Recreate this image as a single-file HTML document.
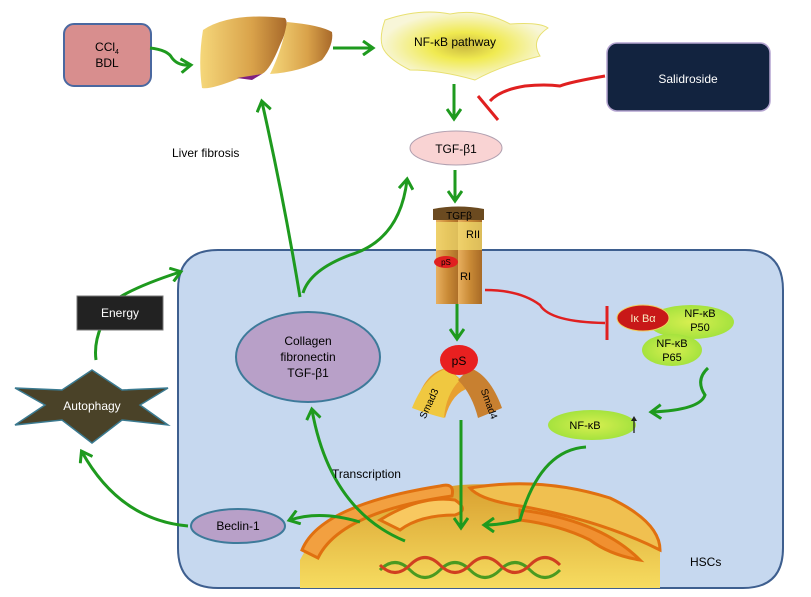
<!DOCTYPE html>
<html><head><meta charset="utf-8"><style>
html,body{margin:0;padding:0;background:#fff}
svg{display:block}
text{font-family:"Liberation Sans",sans-serif}
</style></head><body>
<svg width="811" height="597" viewBox="0 0 811 597" xmlns="http://www.w3.org/2000/svg">
<defs>
<linearGradient id="liv" x1="0" x2="1"><stop offset="0" stop-color="#f5d77a"/><stop offset="0.6" stop-color="#d9a24a"/><stop offset="1" stop-color="#a8692a"/></linearGradient>
<linearGradient id="rec" x1="0" x2="1"><stop offset="0" stop-color="#e8b060"/><stop offset="0.5" stop-color="#c98a36"/><stop offset="1" stop-color="#a86a26"/></linearGradient>
<linearGradient id="nuc" x1="0" y1="0" x2="0" y2="1"><stop offset="0" stop-color="#d9a030"/><stop offset="1" stop-color="#f6dc60"/></linearGradient>
<radialGradient id="grn" cx="0.5" cy="0.5" r="0.6"><stop offset="0" stop-color="#d8ef50"/><stop offset="1" stop-color="#9be03a"/></radialGradient>
<radialGradient id="nfp" cx="0.5" cy="0.5" r="0.5"><stop offset="0" stop-color="#c9b840"/><stop offset="0.4" stop-color="#f0ea50"/><stop offset="1" stop-color="#f8f6d8"/></radialGradient>
<marker id="ga" markerWidth="14" markerHeight="16" refX="10" refY="8" orient="auto" markerUnits="userSpaceOnUse"><path d="M1,1 L11,8 L1,15" fill="none" stroke="#1e9a1e" stroke-width="3"/></marker>
</defs>
<!-- cell -->
<path d="M218,250 H745 Q783,250 783,290 V548 Q783,588 743,588 H218 Q178,588 178,548 V290 Q178,250 218,250 Z" fill="#c6d8ef" stroke="#3e5f8f" stroke-width="2"/>
<!-- nucleus -->
<path d="M300,588 V560 Q330,500 460,485 Q590,478 660,540 V588 Z" fill="url(#nuc)"/>
<path d="M302,550 Q320,505 440,486 Q455,482 452,496 Q340,512 318,558 Z" fill="#f2a040" stroke="#e07010" stroke-width="3"/>
<path d="M380,520 Q420,495 455,500 Q470,510 455,515 Q420,515 400,530 Z" fill="#f8c860" stroke="#e07010" stroke-width="3"/>
<path d="M470,488 Q540,476 610,498 Q660,522 660,550 Q600,520 520,506 Q480,500 470,488 Z" fill="#f0c050" stroke="#e07010" stroke-width="3"/>
<path d="M520,510 Q600,520 640,560 Q610,555 590,540 Q560,525 520,520 Z" fill="#f09030" stroke="#e07010" stroke-width="3"/>
<path d="M380,570 Q395,555 410,570 T440,570 T470,570 T500,570 T530,570 T560,570" fill="none" stroke="#4a9a20" stroke-width="3"/>
<path d="M380,565 Q395,580 410,565 T440,565 T470,565 T500,565 T530,565 T560,565" fill="none" stroke="#d04020" stroke-width="3"/>
<!-- CCl4 box -->
<rect x="64" y="24" width="87" height="62" rx="10" fill="#d88e8e" stroke="#4a68a0" stroke-width="2"/>
<text x="107" y="51" font-size="12" text-anchor="middle">CCl<tspan font-size="7" dy="3">4</tspan></text>
<text x="107" y="67" font-size="12" text-anchor="middle">BDL</text>
<!-- liver -->
<path d="M203,30 Q230,12 285,18 Q290,24 280,45 Q270,70 262,74 L240,78 Q210,90 202,88 Q198,60 203,30 Z" fill="url(#liv)"/>
<path d="M287,22 Q320,25 332,32 Q334,45 322,60 Q300,72 270,74 Q282,50 287,22 Z" fill="url(#liv)"/>
<path d="M237,78 L262,74 L252,80 Z" fill="#802080"/>
<!-- NF-kB pathway -->
<path d="M385,20 Q420,8 450,14 Q480,8 510,24 Q540,22 548,28 Q530,40 540,56 Q500,66 475,80 Q440,70 410,70 Q390,60 384,50 Q378,40 385,20 Z" fill="url(#nfp)" stroke="#e8e070" stroke-width="1"/>
<text x="455" y="46" font-size="12" text-anchor="middle">NF-κB pathway</text>
<!-- Salidroside -->
<rect x="607" y="43" width="163" height="68" rx="10" fill="#12233f" stroke="#b4a4d0" stroke-width="1.5"/>
<text x="688" y="83" font-size="12" fill="#fff" text-anchor="middle">Salidroside</text>
<!-- TGF-b1 -->
<ellipse cx="456" cy="148" rx="46" ry="17" fill="#f9d3d3" stroke="#b0a0b0"/>
<text x="456" y="153" font-size="12" text-anchor="middle">TGF-β1</text>
<!-- receptor -->
<rect x="436" y="214" width="24" height="90" fill="url(#rec)"/>
<rect x="458" y="214" width="24" height="90" fill="url(#rec)"/>
<rect x="436" y="222" width="46" height="28" fill="#f2e070" opacity="0.7"/>
<path d="M433,209 Q458,204 484,209 V220 H433 Z" fill="#6b4a20"/>
<text x="459" y="219" font-size="10" text-anchor="middle">TGFβ</text>
<text x="466" y="238" font-size="11">RII</text>
<text x="460" y="280" font-size="11">RI</text>
<ellipse cx="446" cy="262" rx="12" ry="6" fill="#e02020"/>
<text x="446" y="265" font-size="8" text-anchor="middle">pS</text>
<!-- arrows -->
<g fill="none" stroke="#1e9a1e" stroke-width="3" marker-end="url(#ga)">
<path d="M150,48 Q168,50 172,58 Q178,66 190,65"/>
<path d="M333,48 H372"/>
<path d="M454,84 V118"/>
<path d="M455,170 V200"/>
<path d="M300,297 Q284,200 262,102"/>
<path d="M303,293 Q310,270 350,255 Q400,240 407,180"/>
<path d="M457,304 V338"/>
<path d="M96,360 Q92,330 120,297 Q140,285 180,272"/>
<path d="M188,526 Q120,520 82,452"/>
<path d="M405,541 Q330,510 312,410"/>
<path d="M360,522 Q320,510 290,520"/>
<path d="M461,420 V527"/>
<path d="M586,447 Q540,450 520,520 Q500,525 485,525"/>
<path d="M708,368 Q695,380 705,395 Q700,410 652,412"/>
</g>
<!-- red inhibitors -->
<path d="M605,76 Q570,82 560,86 Q545,84 525,86 Q500,90 490,101" fill="none" stroke="#e02020" stroke-width="3"/>
<path d="M478,96 L498,120" stroke="#e02020" stroke-width="3"/>
<path d="M485,290 Q520,290 540,305 Q550,322 605,323" fill="none" stroke="#e02020" stroke-width="2.5"/>
<path d="M607,306 V340" stroke="#e02020" stroke-width="3"/>
<text x="172" y="157" font-size="12">Liver fibrosis</text>
<!-- Smads -->
<path d="M420,392 Q430,370 448,368 L470,388 Q452,392 445,418 Z" fill="#e8a030"/>
<path d="M412,408 Q425,375 448,368 L460,380 Q446,394 444,418 Q428,414 412,408 Z" fill="#f0c840"/>
<path d="M470,368 Q490,375 502,408 Q488,414 478,418 Q472,394 458,380 Z" fill="#c88030"/>
<text x="432" y="405" font-size="10" transform="rotate(-65 432 405)" text-anchor="middle">Smad3</text>
<text x="486" y="405" font-size="10" transform="rotate(70 486 405)" text-anchor="middle">Smad4</text>
<ellipse cx="459" cy="360" rx="19" ry="15" fill="#e82020"/>
<text x="459" y="365" font-size="12" text-anchor="middle">pS</text>
<!-- NF-kB complex -->
<ellipse cx="691" cy="322" rx="43" ry="17" fill="url(#grn)"/>
<ellipse cx="672" cy="350" rx="30" ry="16" fill="url(#grn)"/>
<ellipse cx="643" cy="318" rx="26" ry="13" fill="#c81818" stroke="#f0d060"/>
<text x="643" y="322" font-size="11" fill="#f8e8c0" text-anchor="middle">Iκ Bα</text>
<text x="700" y="317" font-size="11" text-anchor="middle">NF-κB</text>
<text x="700" y="331" font-size="11" text-anchor="middle">P50</text>
<text x="672" y="347" font-size="11" text-anchor="middle">NF-κB</text>
<text x="672" y="361" font-size="11" text-anchor="middle">P65</text>
<ellipse cx="592" cy="425" rx="44" ry="15" fill="url(#grn)"/>
<text x="585" y="429" font-size="11" text-anchor="middle">NF-κB</text>
<path d="M634,433 V418" stroke="#222" stroke-width="1.3"/><path d="M631,421 L634,416 L637,421Z" fill="#222"/>
<!-- collagen -->
<ellipse cx="308" cy="357" rx="72" ry="45" fill="#b8a0c8" stroke="#3d7a9a" stroke-width="2"/>
<text x="308" y="345" font-size="12" text-anchor="middle">Collagen</text>
<text x="308" y="361" font-size="12" text-anchor="middle">fibronectin</text>
<text x="308" y="377" font-size="12" text-anchor="middle">TGF-β1</text>
<!-- energy / autophagy -->
<rect x="77" y="296" width="86" height="34" fill="#222" stroke="#777"/>
<text x="120" y="317" font-size="12" fill="#fff" text-anchor="middle">Energy</text>
<polygon points="15,388 62,390 92,370 122,390 168,388 140,405 168,425 122,420 92,443 62,420 15,425 45,405" fill="#4a4228" stroke="#3b7a90" stroke-width="1.5"/>
<text x="92" y="410" font-size="12" fill="#fff" text-anchor="middle">Autophagy</text>
<!-- Beclin -->
<ellipse cx="238" cy="526" rx="47" ry="17" fill="#b8a0c8" stroke="#3d7a9a" stroke-width="2"/>
<text x="238" y="530" font-size="12" text-anchor="middle">Beclin-1</text>
<text x="332" y="478" font-size="12">Transcription</text>
<text x="690" y="566" font-size="12">HSCs</text>
</svg>
</body></html>
